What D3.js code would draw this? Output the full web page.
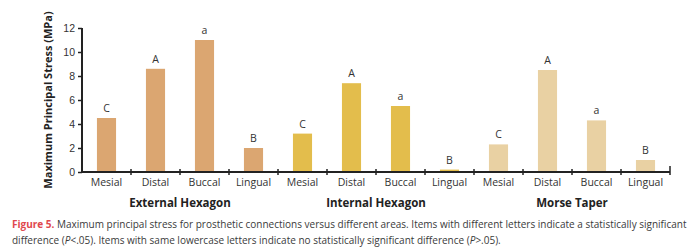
<!DOCTYPE html>
<html>
<head>
<meta charset="utf-8">
<script src="https://cdn.jsdelivr.net/npm/d3@7"></script>
<style>
  body { margin: 0; background: #fff; }
  svg { display: block; font-family: 'Open Sans', sans-serif; }
  .tick text { fill: #333; font-size: 10.5px; }
  .caption { font-size: 10px; fill: #3a3a3a; }
</style>
</head>
<body>
<svg width="700" height="252"></svg>
<script>
var svg = d3.select('svg');

// Data
var groups = ['External Hexagon', 'Internal Hexagon', 'Morse Taper'];
var areas = ['Mesial', 'Distal', 'Buccal', 'Lingual'];
var externalHex = [4.5, 8.6, 11.0, 2.0];
var internalHex = [3.2, 7.4, 5.5, 0.2];
var morseTaper = [2.3, 8.5, 4.3, 1.0];
var letters = ['C', 'A', 'a', 'B'];
var groupColors = ['#dba671', '#e3bd4c', '#e9d1a3'];
var yTicks = [0, 2, 4, 6, 8, 10, 12];

var seriesValues = [externalHex, internalHex, morseTaper];

// Flatten into bar records
var bars = [];
groups.forEach(function(g, gi) {
    areas.forEach(function(a, ai) {
        bars.push({id: gi + '-' + a, group: gi, area: a, value: seriesValues[gi][ai], letter: letters[ai]});
    });
});

var padding = {t: 28, l: 82};
var plotW = 670 - padding.l;
var plotH = 172 - padding.t;

var chartG = svg.append('g')
    .attr('transform', 'translate(' + [padding.l, padding.t] + ')');

var xScale = d3.scaleBand()
    .domain(bars.map(function(d) { return d.id; }))
    .range([0, plotW])
    .paddingInner(0.61)
    .paddingOuter(0.305);

var yScale = d3.scaleLinear().domain([0, 12]).range([plotH, 0]);

// Bars
chartG.selectAll('.bar')
    .data(bars)
    .enter()
    .append('rect')
    .attr('class', 'bar')
    .attr('x', function(d) { return xScale(d.id); })
    .attr('width', xScale.bandwidth())
    .attr('y', function(d) { return yScale(d.value); })
    .attr('height', function(d) { return plotH - yScale(d.value); })
    .style('fill', function(d) { return groupColors[d.group]; });

// Significance letters
chartG.selectAll('.letter')
    .data(bars)
    .enter()
    .append('text')
    .attr('class', 'letter')
    .attr('x', function(d) { return xScale(d.id) + xScale.bandwidth() / 2; })
    .attr('y', function(d) { return yScale(d.value) - 6; })
    .attr('text-anchor', 'middle')
    .style('font-size', '10.5px')
    .style('fill', '#333')
    .text(function(d) { return d.letter; });

// Y axis
var yAxis = d3.axisLeft(yScale).tickValues(yTicks).tickSize(4).tickPadding(3);
var yAxisG = chartG.append('g').attr('class', 'y axis').call(yAxis);
yAxisG.select('.domain').attr('stroke', '#222').attr('stroke-width', 2)
    .attr('d', 'M0,' + (plotH + 1) + 'V0');
yAxisG.selectAll('.tick line').attr('stroke', '#222').attr('stroke-width', 1.5);

// X axis: category labels under each band, ticks at band boundaries
var xAxisG = chartG.append('g').attr('class', 'x axis')
    .attr('transform', 'translate(0,' + plotH + ')');
xAxisG.append('line')
    .attr('x1', 0).attr('x2', plotW)
    .attr('stroke', '#222').attr('stroke-width', 2);
var step = xScale.step();
xAxisG.selectAll('.xtick')
    .data(d3.range(1, bars.length + 1))
    .enter()
    .append('line')
    .attr('class', 'xtick')
    .attr('x1', function(i) { return i * step; })
    .attr('x2', function(i) { return i * step; })
    .attr('y1', function(i) { return i === bars.length ? -6 : -3; })
    .attr('y2', 3)
    .attr('stroke', '#222').attr('stroke-width', 1.5);
xAxisG.selectAll('.xlabel')
    .data(bars)
    .enter()
    .append('text')
    .attr('class', 'xlabel')
    .attr('x', function(d) { return xScale(d.id) + xScale.bandwidth() / 2; })
    .attr('y', 14)
    .attr('text-anchor', 'middle')
    .style('font-size', '10.5px')
    .style('fill', '#333')
    .text(function(d) { return d.area; });

// Group labels, centred under each group of four bars
svg.selectAll('.glabel')
    .data(groups)
    .enter()
    .append('text')
    .attr('class', 'glabel')
    .attr('x', function(d, i) { return padding.l + (i * 4 + 2) * step; })
    .attr('y', 207)
    .attr('text-anchor', 'middle')
    .style('font-size', '11.5px')
    .style('font-weight', 'bold')
    .style('fill', '#222')
    .text(function(d) { return d; });

// Y axis title
svg.append('text')
    .attr('transform', 'translate(' + [52, 100] + ')rotate(-90)')
    .attr('text-anchor', 'middle')
    .style('font-size', '11px')
    .style('font-weight', 'bold')
    .style('fill', '#222')
    .text('Maximum Principal Stress (MPa)');

// Caption
var cap1 = svg.append('text').attr('class', 'caption').attr('x', 12).attr('y', 228);
cap1.append('tspan').style('fill', '#e0484e').style('font-weight', 'bold').text('Figure 5.');
cap1.append('tspan').text(' Maximum principal stress for prosthetic connections versus different areas. Items with different letters indicate a statistically significant');
var cap2 = svg.append('text').attr('class', 'caption').attr('x', 12).attr('y', 244);
cap2.append('tspan').text('difference (');
cap2.append('tspan').style('font-style', 'italic').text('P');
cap2.append('tspan').text('<.05). Items with same lowercase letters indicate no statistically significant difference (');
cap2.append('tspan').style('font-style', 'italic').text('P');
cap2.append('tspan').text('>.05).');
</script>
</body>
</html>
